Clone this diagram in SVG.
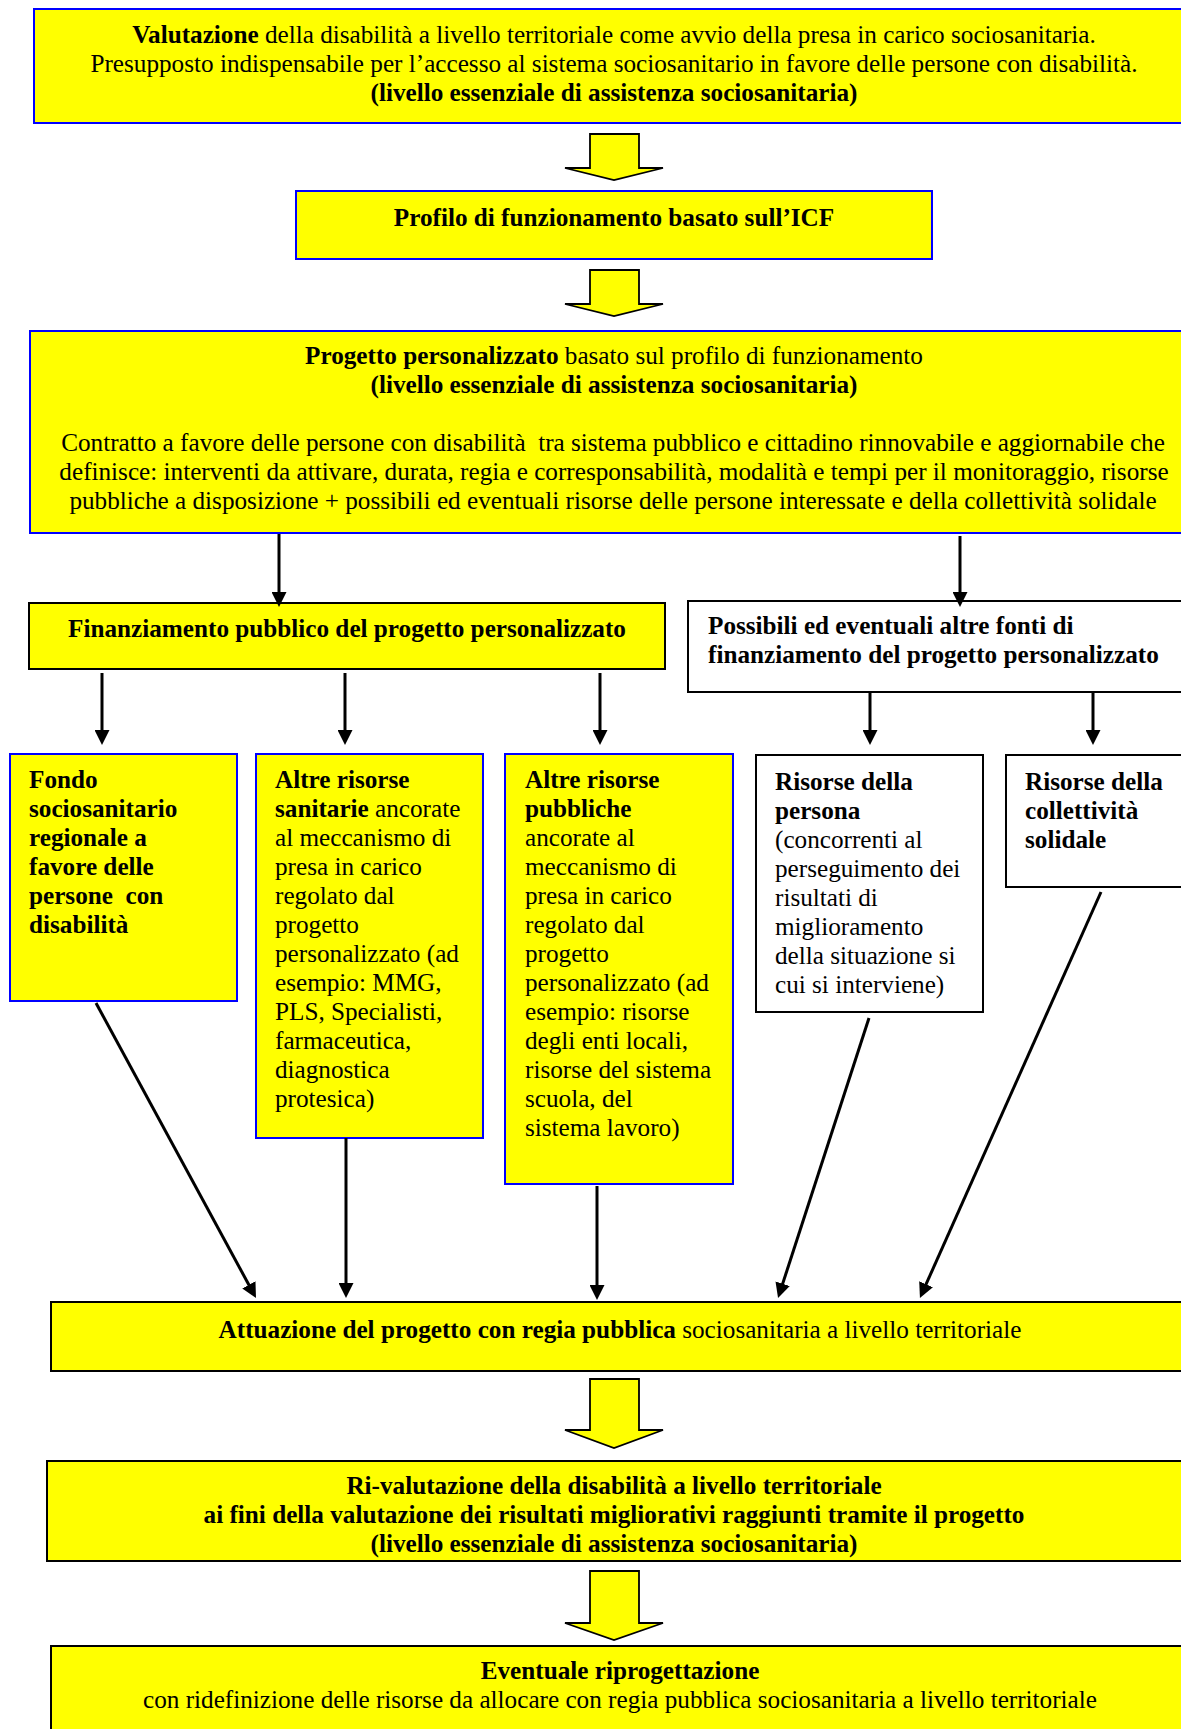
<svg xmlns="http://www.w3.org/2000/svg" width="1181" height="1729" viewBox="0 0 1181 1729">
<style>
text{font-family:"Liberation Serif","Times New Roman",serif;font-size:25.2px;fill:#000}
.c{text-anchor:middle}
.b{font-weight:bold}
.by{fill:#FFFF00;stroke:#0000FF;stroke-width:2}
.ky{fill:#FFFF00;stroke:#000;stroke-width:2}
.kw{fill:#FFFFFF;stroke:#000;stroke-width:2}
.blk{fill:#FFFF00;stroke:#000;stroke-width:1.8;stroke-linejoin:miter}
.ln{stroke:#000;stroke-width:3;fill:none;marker-end:url(#ah)}
</style>
<defs>
<marker id="ah" viewBox="0 0 15 15" refX="7" refY="7.5" markerWidth="15" markerHeight="15" markerUnits="userSpaceOnUse" orient="auto">
<path d="M0,0 L15,7.5 L0,15 z" fill="#000"/>
</marker>
</defs>

<g id="n-valutazione">
<rect class="by" x="34" y="9" width="1165" height="114"/>
<text class="c" x="614" y="43"><tspan class="b">Valutazione</tspan> della disabilità a livello territoriale come avvio della presa in carico sociosanitaria.</text>
<text class="c" x="614" y="72">Presupposto indispensabile per l’accesso al sistema sociosanitario in favore delle persone con disabilità.</text>
<text class="c b" x="614" y="101">(livello essenziale di assistenza sociosanitaria)</text>
</g>

<g id="arrow-block-1"><polygon class="blk" points="590,134 639,134 639,168 663,168 614,180 565,168 590,168"/></g>

<g id="n-profilo">
<rect class="by" x="296" y="191" width="636" height="68"/>
<text class="c b" x="614" y="226">Profilo di funzionamento basato sull’ICF</text>
</g>

<g id="arrow-block-2"><polygon class="blk" points="590,270 639,270 639,304 663,304 614,316 565,304 590,304"/></g>

<g id="n-progetto">
<rect class="by" x="30" y="331" width="1170" height="202"/>
<text class="c" x="614" y="364"><tspan class="b">Progetto personalizzato</tspan> basato sul profilo di funzionamento</text>
<text class="c b" x="614" y="393">(livello essenziale di assistenza sociosanitaria)</text>
<text class="c" x="613" y="451" style="white-space:pre">Contratto a favore delle persone con disabilità  tra sistema pubblico e cittadino rinnovabile e aggiornabile che</text>
<text class="c" x="614" y="480">definisce: interventi da attivare, durata, regia e corresponsabilità, modalità e tempi per il monitoraggio, risorse</text>
<text class="c" x="613" y="509">pubbliche a disposizione + possibili ed eventuali risorse delle persone interessate e della collettività solidale</text>
</g>

<g id="n-finanziamento">
<rect class="ky" x="29" y="603" width="636" height="66"/>
<text class="c b" x="347" y="637">Finanziamento pubblico del progetto personalizzato</text>
</g>

<g id="n-possibili">
<rect class="kw" x="688" y="601" width="520" height="91"/>
<text class="b" x="708" y="634">Possibili ed eventuali altre fonti di</text>
<text class="b" x="708" y="663">finanziamento del progetto personalizzato</text>
</g>

<g id="n-fondo">
<rect class="by" x="10" y="754" width="227" height="247"/>
<text class="b" x="29" y="788">Fondo</text>
<text class="b" x="29" y="817">sociosanitario</text>
<text class="b" x="29" y="846">regionale a</text>
<text class="b" x="29" y="875">favore delle</text>
<text class="b" x="29" y="904" style="white-space:pre">persone  con</text>
<text class="b" x="29" y="933">disabilità</text>
</g>

<g id="n-sanitarie">
<rect class="by" x="256" y="754" width="227" height="384"/>
<text class="b" x="275" y="788">Altre risorse</text>
<text x="275" y="817"><tspan class="b">sanitarie</tspan> ancorate</text>
<text x="275" y="846">al meccanismo di</text>
<text x="275" y="875">presa in carico</text>
<text x="275" y="904">regolato dal</text>
<text x="275" y="933">progetto</text>
<text x="275" y="962">personalizzato (ad</text>
<text x="275" y="991">esempio: MMG,</text>
<text x="275" y="1020">PLS, Specialisti,</text>
<text x="275" y="1049">farmaceutica,</text>
<text x="275" y="1078">diagnostica</text>
<text x="275" y="1107">protesica)</text>
</g>

<g id="n-pubbliche">
<rect class="by" x="505" y="754" width="228" height="430"/>
<text class="b" x="525" y="788">Altre risorse</text>
<text class="b" x="525" y="817">pubbliche</text>
<text x="525" y="846">ancorate al</text>
<text x="525" y="875">meccanismo di</text>
<text x="525" y="904">presa in carico</text>
<text x="525" y="933">regolato dal</text>
<text x="525" y="962">progetto</text>
<text x="525" y="991">personalizzato (ad</text>
<text x="525" y="1020">esempio: risorse</text>
<text x="525" y="1049">degli enti locali,</text>
<text x="525" y="1078">risorse del sistema</text>
<text x="525" y="1107">scuola, del</text>
<text x="525" y="1136">sistema lavoro)</text>
</g>

<g id="n-persona">
<rect class="kw" x="756" y="755" width="227" height="257"/>
<text class="b" x="775" y="790">Risorse della</text>
<text class="b" x="775" y="819">persona</text>
<text x="775" y="848">(concorrenti al</text>
<text x="775" y="877">perseguimento dei</text>
<text x="775" y="906">risultati di</text>
<text x="775" y="935">miglioramento</text>
<text x="775" y="964">della situazione si</text>
<text x="775" y="993">cui si interviene)</text>
</g>

<g id="n-collettivita">
<rect class="kw" x="1006" y="755" width="200" height="132"/>
<text class="b" x="1025" y="790">Risorse della</text>
<text class="b" x="1025" y="819">collettività</text>
<text class="b" x="1025" y="848">solidale</text>
</g>

<g id="n-attuazione">
<rect class="ky" x="51" y="1302" width="1150" height="69"/>
<text class="c" x="620" y="1338"><tspan class="b">Attuazione del progetto con regia pubblica</tspan> sociosanitaria a livello territoriale</text>
</g>

<g id="arrow-block-3"><polygon class="blk" points="590,1379 639,1379 639,1430 663,1430 614,1448 565,1430 590,1430"/></g>

<g id="n-rivalutazione">
<rect class="ky" x="47" y="1461" width="1150" height="100"/>
<text class="c b" x="614" y="1494">Ri-valutazione della disabilità a livello territoriale</text>
<text class="c b" x="614" y="1523">ai fini della valutazione dei risultati migliorativi raggiunti tramite il progetto</text>
<text class="c b" x="614" y="1552">(livello essenziale di assistenza sociosanitaria)</text>
</g>

<g id="arrow-block-4"><polygon class="blk" points="590,1571 639,1571 639,1623 663,1623 614,1640 565,1623 590,1623"/></g>

<g id="n-eventuale">
<rect class="ky" x="51" y="1646" width="1150" height="100"/>
<text class="c b" x="620" y="1679">Eventuale riprogettazione</text>
<text class="c" x="620" y="1708">con ridefinizione delle risorse da allocare con regia pubblica sociosanitaria a livello territoriale</text>
</g>

<g id="connectors">
<line class="ln" x1="279" y1="534" x2="279" y2="599"/>
<line class="ln" x1="960" y1="536" x2="960" y2="599"/>
<line class="ln" x1="102" y1="673" x2="102" y2="737"/>
<line class="ln" x1="345" y1="673" x2="345" y2="737"/>
<line class="ln" x1="600" y1="673" x2="600" y2="737"/>
<line class="ln" x1="870" y1="693" x2="870" y2="737"/>
<line class="ln" x1="1093" y1="693" x2="1093" y2="737"/>
<line class="ln" x1="96" y1="1003" x2="252.2" y2="1291"/>
<line class="ln" x1="346" y1="1138" x2="346" y2="1290"/>
<line class="ln" x1="597" y1="1186" x2="597" y2="1292"/>
<line class="ln" x1="869" y1="1018" x2="780.5" y2="1290.4"/>
<line class="ln" x1="1101" y1="892" x2="923.2" y2="1290.7"/>
</g>
</svg>
